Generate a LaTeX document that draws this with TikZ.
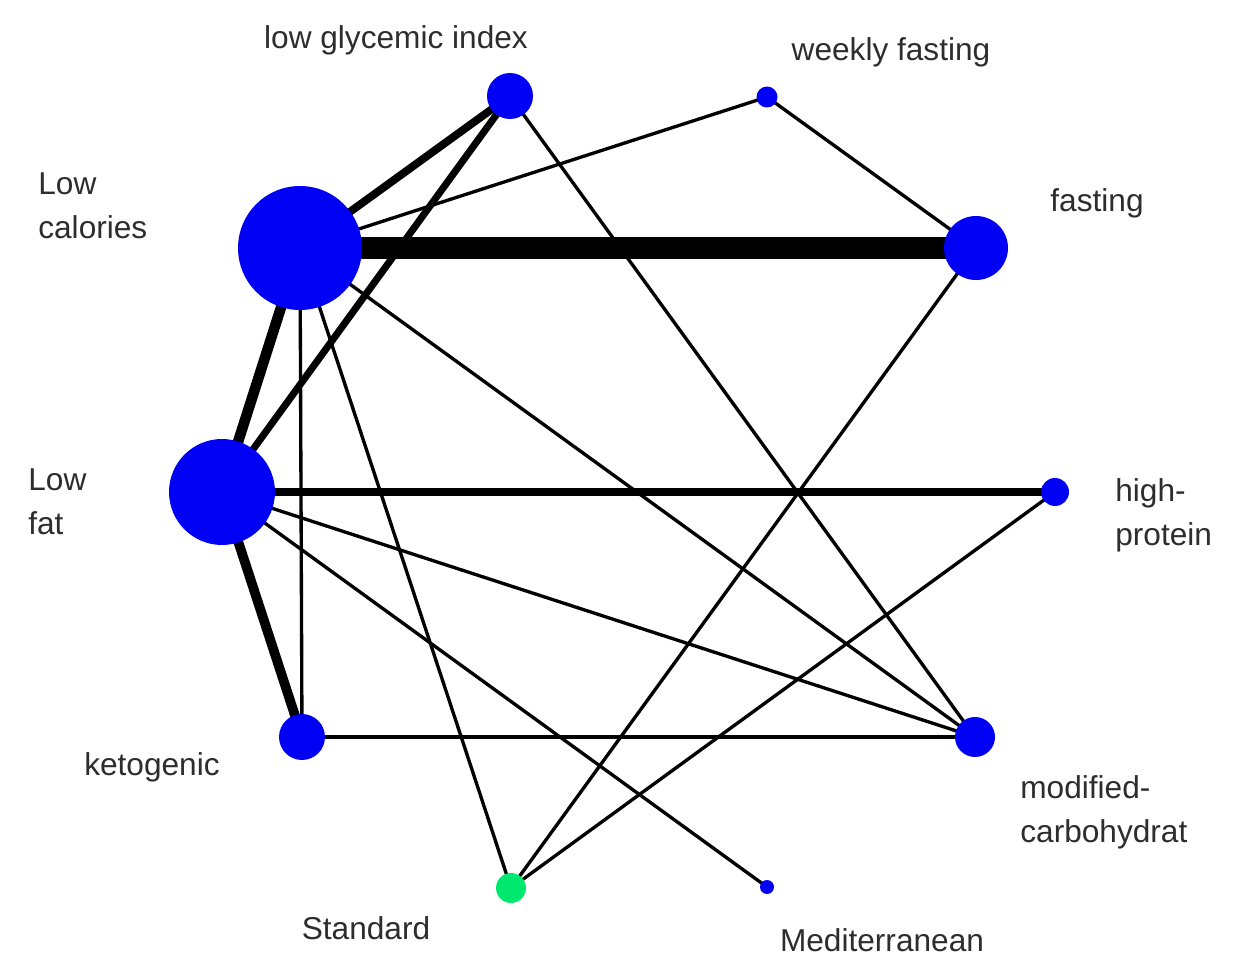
\documentclass[tikz,border=0pt]{standalone}
\usepackage{fontspec}
\setmainfont{Liberation Sans}
\usetikzlibrary{backgrounds}
\definecolor{netblue}{RGB}{0,0,245}
\definecolor{netgreen}{RGB}{0,232,110}
\definecolor{labelgray}{RGB}{45,45,45}
\tikzset{
  diet/.style={circle, fill=netblue, inner sep=0pt},
  dietlabel/.style={text=labelgray, font=\fontsize{18}{25}\selectfont, inner sep=0pt, align=left},
  thinlink/.style={line width=1.9pt},
}
\begin{document}
\begin{tikzpicture}[x=0.02cm, y=-0.02cm]
            \useasboundingbox (0,0) rectangle (1235,959);
            \node[diet, minimum size=2.48cm] (lc) at (300,248) {};
            \node[diet, minimum size=2.12cm] (lf) at (222,492) {};
            \node[diet, minimum size=0.92cm] (lgi) at (510,96) {};
            \node[diet, minimum size=0.42cm] (wf) at (767,97) {};
            \node[diet, minimum size=1.28cm] (fa) at (976,248) {};
            \node[diet, minimum size=0.56cm] (hp) at (1055,492) {};
            \node[diet, minimum size=0.80cm] (mc) at (975,737) {};
            \node[diet, minimum size=0.28cm] (med) at (767,887) {};
            \node[diet, fill=netgreen, minimum size=0.60cm] (std) at (511,888) {};
            \node[diet, minimum size=0.92cm] (ket) at (302,737) {};
            \node[dietlabel] (lgilabel) at (396,40) {low glycemic index};
            \node[dietlabel] (wflabel) at (891,52) {weekly fasting};
            \node[dietlabel, anchor=west] (lclabel) at (38,206) {Low\\calories};
            \node[dietlabel] (falabel) at (1097,203) {fasting};
            \node[dietlabel, anchor=west] (lflabel) at (28,502) {Low\\fat};
            \node[dietlabel, anchor=west] (hplabel) at (1115,515) {high-\\protein};
            \node[dietlabel] (ketlabel) at (152,767) {ketogenic};
            \node[dietlabel, anchor=west] (mclabel) at (1020,812) {modified-\\carbohydrat};
            \node[dietlabel] (stdlabel) at (366,928) {Standard};
            \node[dietlabel] (medlabel) at (882,940) {Mediterranean};
            \begin{pgfonlayer}{background}
            \draw[line width=12pt] (lc.center) -- (fa.center);
            \draw[line width=6pt] (lc.center) -- (lf.center);
            \draw[line width=5.5pt] (lf.center) -- (ket.center);
            \draw[line width=4.5pt] (lc.center) -- (lgi.center);
            \draw[line width=4pt] (lgi.center) -- (lf.center);
            \draw[line width=4pt] (lf.center) -- (hp.center);
            \draw[thinlink] (lc.center) -- (wf.center);
            \draw[thinlink] (lc.center) -- (ket.center);
            \draw[thinlink] (lc.center) -- (std.center);
            \draw[thinlink] (lc.center) -- (mc.center);
            \draw[thinlink] (lgi.center) -- (mc.center);
            \draw[thinlink] (wf.center) -- (fa.center);
            \draw[thinlink] (fa.center) -- (std.center);
            \draw[thinlink] (lf.center) -- (mc.center);
            \draw[thinlink] (lf.center) -- (med.center);
            \draw[thinlink] (ket.center) -- (mc.center);
            \draw[thinlink] (hp.center) -- (std.center);
            \end{pgfonlayer}
        \end{tikzpicture}
\end{document}
